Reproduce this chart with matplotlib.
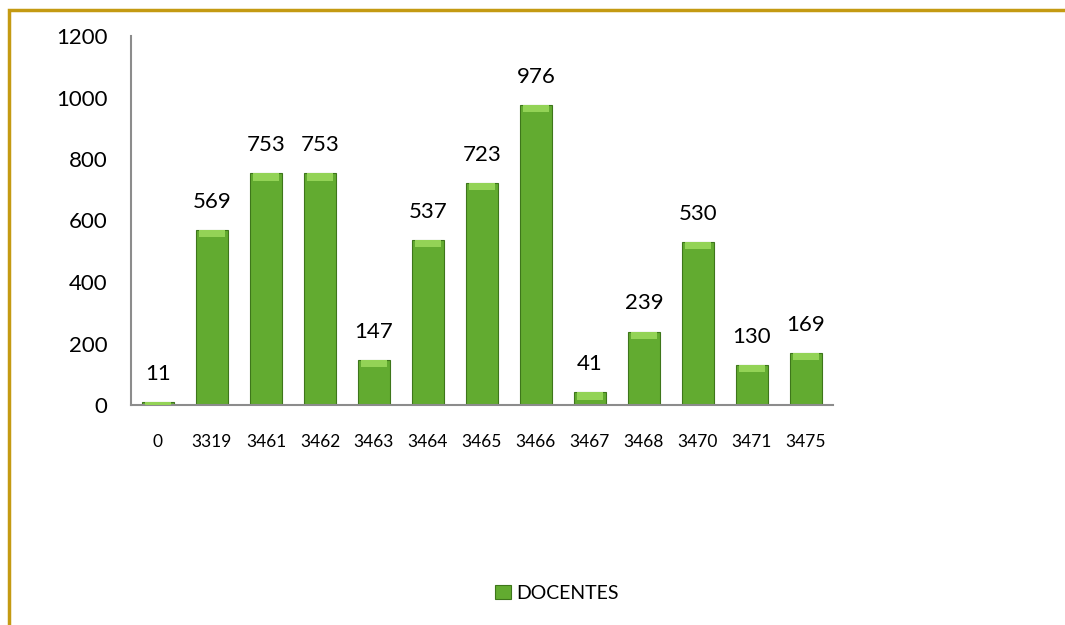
import numpy as np
import matplotlib
matplotlib.use("Agg")
import matplotlib.pyplot as plt
from matplotlib.patches import Rectangle

plt.rcParams['font.family'] = ['Lato', 'DejaVu Sans']

# data
categories = ['0', '3319', '3461', '3462', '3463', '3464', '3465',
              '3466', '3467', '3468', '3470', '3471', '3475']
docentes = [11, 569, 753, 753, 147, 537, 723, 976, 41, 239, 530, 130, 169]
yticks = [0, 200, 400, 600, 800, 1000, 1200]

fig = plt.figure(figsize=(10.65, 6.25), dpi=100)
ax = fig.add_axes([0.123, 0.352, 0.659, 0.5904])

x = np.arange(len(categories))
bars = ax.bar(x, docentes, width=0.6, color='#62ab30', edgecolor='#3e761b',
              linewidth=0.8, label='DOCENTES', zorder=2)
# lighter bevel on top of each bar
bevel = [min(v, 24) for v in docentes]
ax.bar(x, bevel, width=0.48, bottom=np.array(docentes) - np.array(bevel),
       color='#93d356', linewidth=0, zorder=3)

for xi, v in zip(x, docentes):
    ax.annotate(str(v), (xi, v), xytext=(0, 13), textcoords='offset points',
                ha='center', va='bottom', fontsize=16, color='black')

ax.set_xlim(-0.5, len(categories) - 0.5)
ax.set_ylim(0, 1200)
ax.set_yticks(yticks)
ax.set_xticks(x)
ax.set_xticklabels(categories, fontsize=12.5)
ax.tick_params(axis='y', length=0, pad=17, labelsize=16)
ax.tick_params(axis='x', length=0, pad=21)
for s in ['top', 'right']:
    ax.spines[s].set_visible(False)
for s in ['left', 'bottom']:
    ax.spines[s].set_color('#8c8c8c')
    ax.spines[s].set_linewidth(1.5)

leg = fig.legend(handles=[bars], labels=['DOCENTES'], loc='center',
                 bbox_to_anchor=(0.523, 0.051), frameon=False, fontsize=14,
                 handlelength=0.8, handleheight=0.8, handletextpad=0.3)

# gold outer frame (cropped on right and bottom)
fig.add_artist(Rectangle((0.0085, -0.1), 1.2, 0.1 + 0.9848, fill=False,
                         edgecolor='#c49a12', linewidth=2.5,
                         transform=fig.transFigure))

fig.savefig('out.png', dpi=100)
